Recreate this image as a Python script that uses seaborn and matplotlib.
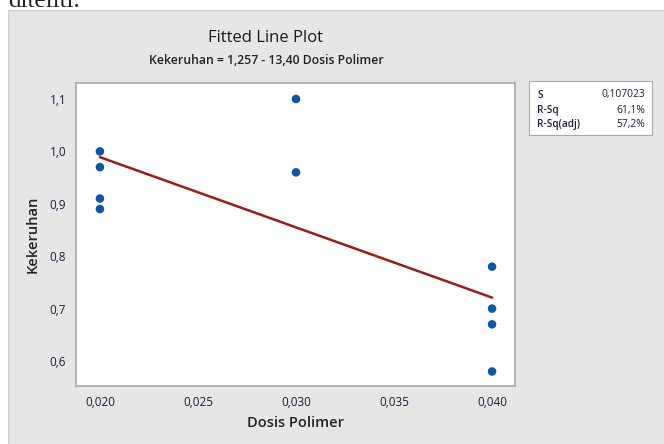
"""
Fitted line plot: Kekeruhan vs Dosis Polimer (Minitab-style).
"""

# === Imports ===

import numpy as np
import pandas as pd
import seaborn as sns
from matplotlib import pyplot as plt
from matplotlib.patches import Rectangle


# === Data ===

dosis = [0.020, 0.020, 0.020, 0.020, 0.030, 0.030, 0.040, 0.040, 0.040, 0.040]
kekeruhan = [1.00, 0.97, 0.91, 0.89, 1.10, 0.96, 0.78, 0.70, 0.67, 0.58]
intercept = 1.257
slope = -13.40
stat_names = ["S", "R-Sq", "R-Sq(adj)"]
stat_values = ["0,107023", "61,1%", "57,2%"]
x_ticks = [0.020, 0.025, 0.030, 0.035, 0.040]
y_ticks = [0.6, 0.7, 0.8, 0.9, 1.0, 1.1]


# === Plot ===

def comma(v, nd):
    return f"{v:.{nd}f}".replace(".", ",")


def make_plot():
    sns.set_style("white")
    plt.rcParams["font.family"] = ["Open Sans", "DejaVu Sans"]

    W, H = 664, 444
    fig = plt.figure(figsize=(W / 100, H / 100), dpi=100, facecolor="white")
    # grey panel behind the chart
    fig.patches.append(Rectangle((8 / W, 0), 1, 1 - 10 / H, transform=fig.transFigure,
                                 facecolor="#e6e6e6", edgecolor="#d0d0d0", lw=0.8, zorder=-5))
    # cut-off text from the page above
    fig.text(8 / W, 1 - 7 / H, "diteliti.", family="Liberation Serif", fontsize=18,
             va="baseline", ha="left", color="#222222")

    ax = fig.add_axes([76 / W, 1 - 386 / H, (515 - 76) / W, (386 - 83) / H])
    ax.set_zorder(2)
    ax.set_facecolor("white")

    data = pd.DataFrame({"Dosis Polimer": dosis, "Kekeruhan": kekeruhan})
    xs = np.array([min(dosis), max(dosis)])
    fit = pd.DataFrame({"x": xs, "y": intercept + slope * xs})

    sns.lineplot(data=fit, x="x", y="y", color="#9c1a1a", lw=1.8, ax=ax, zorder=2)
    sns.scatterplot(data=data, x="Dosis Polimer", y="Kekeruhan", color="#0a56a8",
                    s=38, edgecolor="none", ax=ax, zorder=3)

    ax.set_xlim(0.01878, 0.04117)
    ax.set_ylim(0.5523, 1.1305)
    ax.set_xticks(x_ticks)
    ax.set_xticklabels([comma(v, 3) for v in x_ticks])
    ax.set_yticks(y_ticks)
    ax.set_yticklabels([comma(v, 1) for v in y_ticks])
    ax.tick_params(axis="both", direction="out", length=4, width=0.8, color="#9a9a9a",
                   labelsize=8.5, labelcolor="#1e1e3c", pad=3)
    for sp in ax.spines.values():
        sp.set_color("#a8a8a8")
        sp.set_linewidth(1.2)

    ax.set_xlabel("Dosis Polimer", fontsize=10.5, fontweight="semibold", color="#222222", labelpad=5)
    ax.set_ylabel("Kekeruhan", fontsize=10.5, fontweight="semibold", color="#222222", labelpad=7)

    fig.text(266 / W, 1 - 38 / H, "Fitted Line Plot", ha="center", va="center",
             fontsize=12, color="#1a1a1a")
    fig.text(266 / W, 1 - 61 / H, "Kekeruhan = 1,257 - 13,40 Dosis Polimer", ha="center",
             va="center", fontsize=8.8, fontweight="semibold", color="#222222")

    # statistics box
    fig.patches.append(Rectangle((529 / W, 1 - 135 / H), (652 - 529) / W, 54 / H,
                                 transform=fig.transFigure, facecolor="white",
                                 edgecolor="#a8a8a8", lw=0.8, zorder=1))
    for i, (name, val) in enumerate(zip(stat_names, stat_values)):
        yy = 1 - (95 + i * 15) / H
        fig.text(537 / W, yy, name, ha="left", va="center", fontsize=7.2,
                 fontweight="semibold", color="#1e1e3c")
        fig.text(645 / W, yy, val, ha="right", va="center", fontsize=7.4, color="#1e1e3c")

    fig.savefig("out.png", dpi=100, facecolor="white")


def main():
    make_plot()

main()
